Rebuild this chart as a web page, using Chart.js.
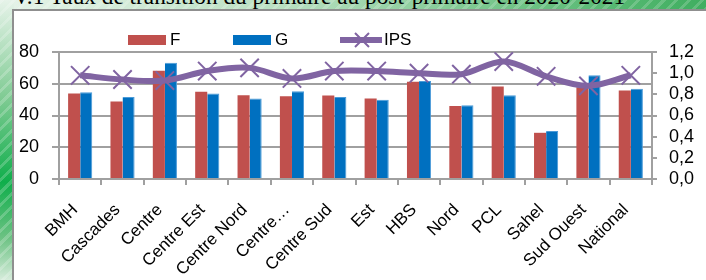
<!DOCTYPE html>
<html>
<head>
<meta charset="utf-8">
<script src="https://cdn.jsdelivr.net/npm/chart.js@4"></script>
<style>
  html, body { margin: 0; padding: 0; }
  body { width: 706px; height: 280px; overflow: hidden; position: relative; background: #ffffff; }
  .bg-top {
    position: absolute; left: 0; top: 0; width: 706px; height: 12px;
    background:
      repeating-linear-gradient(135deg, rgba(255,255,255,0.18) 0 3px, rgba(255,255,255,0) 3px 9px),
      linear-gradient(to right, #e6f3e9 0%, #b9e0c1 40%, #6cc283 75%, #3fae60 100%);
  }
  .bg-left {
    position: absolute; left: 0; top: 0; width: 14px; height: 280px;
    background:
      repeating-linear-gradient(135deg, rgba(255,255,255,0.2) 0 3px, rgba(255,255,255,0) 3px 9px),
      linear-gradient(to bottom, #e6f3e9 0%, #7fcb93 35%, #0fae4b 65%, #6cc283 85%, #d6ecdb 100%);
  }
  .frame {
    position: absolute; left: 12px; top: 9px; width: 700px; height: 280px;
    background: #ffffff; border-left: 2px solid #8f8f8f; border-top: 2px solid #8f8f8f;
  }
  .title {
    position: absolute; left: 13px; top: -15px; white-space: nowrap;
    font: 23.3px/1 "Liberation Serif", "Times New Roman", serif; color: #000;
  }
  canvas { position: absolute; left: 0; top: 0; }
</style>
</head>
<body>
<div class="bg-top"></div>
<div class="bg-left"></div>
<div class="frame"></div>
<div class="title">V.1 Taux de transition du primaire au post-primaire en 2020-2021</div>
<canvas id="ipsChart" width="706" height="280"></canvas>
<script>
const regions = ['BMH', 'Cascades', 'Centre', 'Centre Est', 'Centre Nord', 'Centre…', 'Centre Sud',
    'Est', 'HBS', 'Nord', 'PCL', 'Sahel', 'Sud Ouest', 'National'];
const filles = [53.8, 48.8, 68.2, 54.9, 52.8, 52.1, 52.6, 50.7, 61.2, 46.0, 58.3, 29.1, 57.8, 55.7];
const garcons = [54.7, 51.7, 73.2, 53.8, 50.7, 55.3, 51.7, 50.0, 61.8, 46.4, 52.8, 30.2, 65.4, 56.8];
const ips = [0.98, 0.94, 0.93, 1.02, 1.05, 0.95, 1.02, 1.02, 1.00, 0.99, 1.11, 0.97, 0.88, 0.98];

const gridColor = '#a0a0a0';

Chart.defaults.font.family = '"Liberation Sans", Arial, sans-serif';
Chart.defaults.color = '#000';

// legend drawn by hand: Excel style, box for bars, line + cross for IPS
const topLegend = {
    id: 'topLegend',
    afterDraw(chart) {
        const ctx = chart.ctx;
        const slots = [128, 233, 340];
        const y = 40;
        ctx.save();
        ctx.font = '17px "Liberation Sans", Arial, sans-serif';
        ctx.textBaseline = 'middle';
        chart.data.datasets.forEach((ds, i) => {
            const x = slots[i];
            if (ds.type === 'line') {
                ctx.strokeStyle = ds.borderColor;
                ctx.lineWidth = 6;
                ctx.beginPath();
                ctx.moveTo(x, y);
                ctx.lineTo(x + 42, y);
                ctx.stroke();
                ctx.lineWidth = 2;
                const cx = x + 22, r = 7;
                ctx.beginPath();
                ctx.moveTo(cx - r, y - r); ctx.lineTo(cx + r, y + r);
                ctx.moveTo(cx + r, y - r); ctx.lineTo(cx - r, y + r);
                ctx.stroke();
                ctx.fillStyle = '#000';
                ctx.fillText(ds.label, x + 44, y);
            } else {
                ctx.fillStyle = ds.backgroundColor;
                ctx.fillRect(x, y - 5, 38, 10);
                ctx.fillStyle = '#000';
                ctx.fillText(ds.label, x + 42, y);
            }
        });
        ctx.restore();
    }
};

const ctx = document.getElementById('ipsChart').getContext('2d');
new Chart(ctx, {
    data: {
        labels: regions,
        datasets: [{
            type: 'bar',
            label: 'F',
            data: filles,
            backgroundColor: '#c0504d',
            categoryPercentage: 0.57,
            barPercentage: 1,
            yAxisID: 'y',
            order: 2
        }, {
            type: 'bar',
            label: 'G',
            data: garcons,
            backgroundColor: '#0070c0',
            borderColor: '#4a9ad8',
            borderWidth: { top: 1, right: 1, left: 0, bottom: 0 },
            categoryPercentage: 0.57,
            barPercentage: 1,
            yAxisID: 'y',
            order: 2
        }, {
            type: 'line',
            label: 'IPS',
            data: ips,
            borderColor: '#8064a2',
            borderWidth: 6,
            tension: 0.35,
            pointStyle: 'crossRot',
            pointRadius: 13,
            pointBorderWidth: 2,
            pointBorderColor: '#8064a2',
            yAxisID: 'y1',
            order: 1
        }]
    },
    options: {
        responsive: false,
        animation: false,
        devicePixelRatio: 1,
        layout: { padding: { top: 52, left: 0, right: 0, bottom: 0 } },
        plugins: {
            legend: { display: false },
            tooltip: { enabled: false }
        },
        scales: {
            x: {
                offset: true,
                grid: { offset: true, drawOnChartArea: false, tickLength: 6, color: gridColor, lineWidth: 2 },
                border: { color: gridColor, width: 2 },
                ticks: {
                    autoSkip: false, minRotation: 45, maxRotation: 45,
                    padding: 15, labelOffset: -5, font: { size: 17 }
                },
                afterFit: (scale) => { scale.height = 101; }
            },
            y: {
                position: 'left',
                min: 0,
                max: 80,
                ticks: { stepSize: 20, padding: 13, autoSkip: false, font: { size: 18, lineHeight: 1 } },
                grid: { color: gridColor, lineWidth: 2, tickLength: 7 },
                border: { color: gridColor, width: 2 },
                afterFit: (scale) => { scale.width = 59; }
            },
            y1: {
                position: 'right',
                min: 0,
                max: 1.2,
                ticks: {
                    stepSize: 0.2,
                    padding: 12,
                    autoSkip: false,
                    font: { size: 18, lineHeight: 1 },
                    callback: (v) => v.toFixed(1).replace('.', ',')
                },
                grid: { drawOnChartArea: false, color: gridColor, lineWidth: 2, tickLength: 5 },
                border: { color: gridColor, width: 2 },
                afterFit: (scale) => { scale.width = 54; }
            }
        }
    },
    plugins: [topLegend]
});
</script>
</body>
</html>
